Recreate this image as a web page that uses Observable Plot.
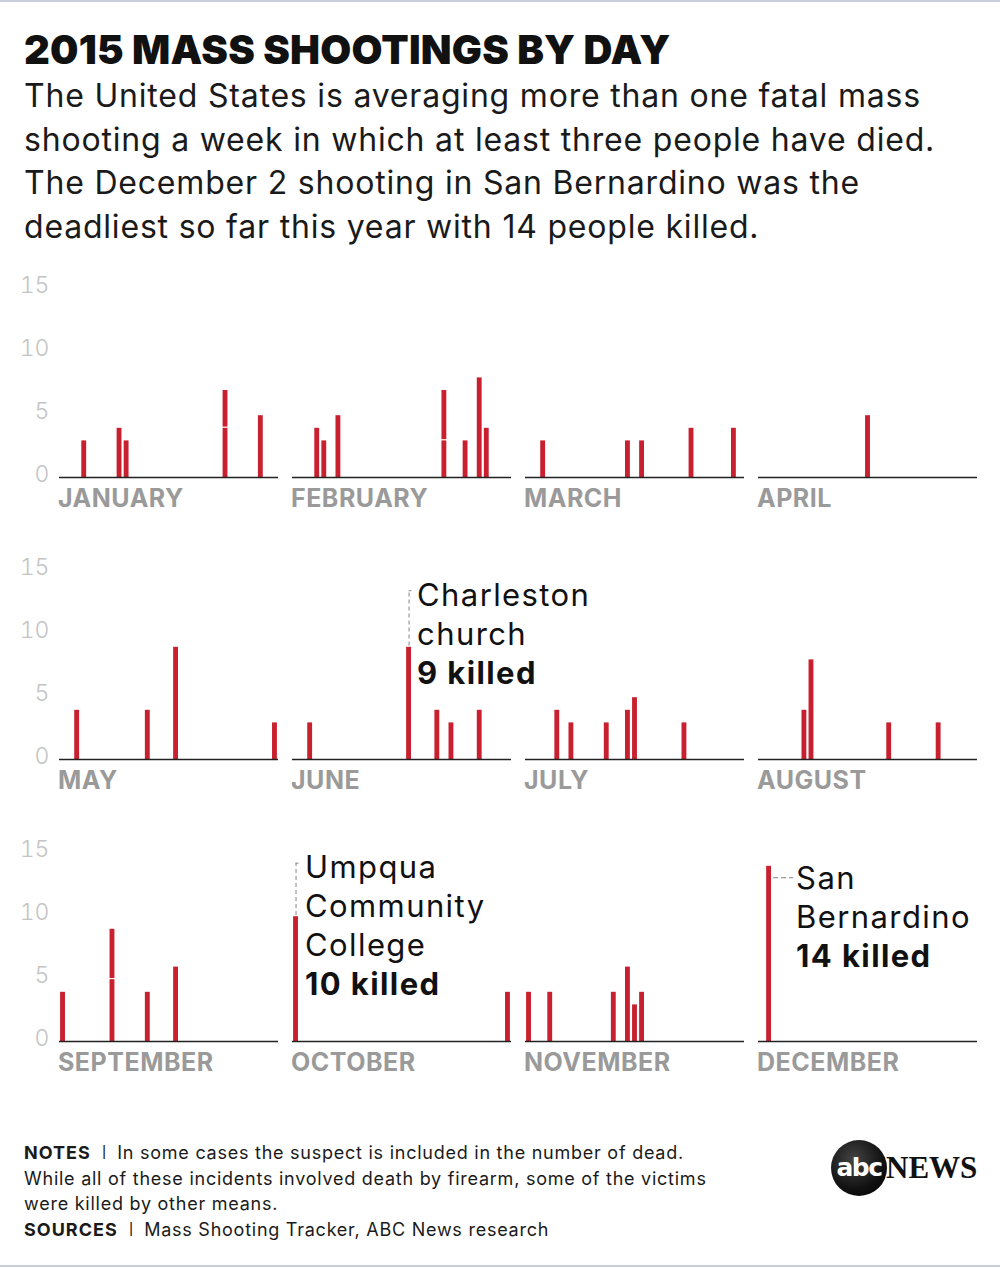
<!DOCTYPE html>
<html>
<head>
<meta charset="utf-8">
<script src="https://cdn.jsdelivr.net/npm/d3@7"></script>
<script src="https://cdn.jsdelivr.net/npm/@observablehq/plot@0.6"></script>
<style>
  html, body { margin: 0; padding: 0; background: #fff; }
  #page { position: relative; width: 1000px; height: 1268px; overflow: hidden; font-family: Inter, "Noto Sans", sans-serif; color: #111; }
  .rule { position: absolute; left: 0; width: 1000px; height: 2px; background: #c9cedb; }
  #title { position: absolute; left: 24px; top: 28px; font-size: 40px; font-weight: 900; line-height: 44px; white-space: nowrap; color: #111; letter-spacing: 0.2px; }
  #subtitle { position: absolute; left: 24px; top: 74px; font-size: 32px; line-height: 43.5px; white-space: nowrap; color: #1a1a1a; letter-spacing: 0.8px; }
  #chart { position: absolute; left: 0; top: 257px; }
  #chart g[font-size="31"] { letter-spacing: 1.4px; }
  #chart g[font-size="25"] { letter-spacing: 0.5px; }
  #notes { position: absolute; left: 24px; top: 1140px; font-size: 18px; line-height: 25.5px; white-space: nowrap; color: #1a1a1a; letter-spacing: 0.75px; }
  #notes b { font-weight: 700; letter-spacing: 1px; }
  #notes .sep { font-weight: 300; padding: 0 10px 0 11px; }
  #logo-circle { position: absolute; left: 831px; top: 1140px; width: 56px; height: 56px; border-radius: 50%; background: radial-gradient(circle at 40% 35%, #444 0%, #111 60%, #000 100%); color: #fff; font-family: "DejaVu Sans", sans-serif; font-weight: 700; font-size: 25px; line-height: 56px; text-align: center; letter-spacing: -1.5px; }
  #logo-news { position: absolute; left: 886px; top: 1150px; font-family: "Liberation Serif", "DejaVu Serif", serif; font-weight: 700; font-size: 31px; line-height: 36px; color: #111; letter-spacing: 0px; }
</style>
</head>
<body>
<div id="page">
  <div class="rule" style="top:0"></div>
  <div id="title">2015 MASS SHOOTINGS BY DAY</div>
  <div id="subtitle">The United States is averaging more than one fatal mass<br>shooting a week in which at least three people have died.<br>The December 2 shooting in San Bernardino was the<br>deadliest so far this year with 14 people killed.</div>
  <div id="chart"></div>
  <div id="notes"><b>NOTES</b><span class="sep">I</span>In some cases the suspect is included in the number of dead.<br>While all of these incidents involved death by firearm, some of the victims<br>were killed by other means.<br><b>SOURCES</b><span class="sep">I</span>Mass Shooting Tracker, ABC News research</div>
  <div id="logo-circle">abc</div>
  <div id="logo-news">NEWS</div>
  <div class="rule" style="top:1265px"></div>
</div>
<script>
// ---- Data ----
const months = ["JANUARY", "FEBRUARY", "MARCH", "APRIL", "MAY", "JUNE",
                "JULY", "AUGUST", "SEPTEMBER", "OCTOBER", "NOVEMBER", "DECEMBER"];
// day of month of each fatal mass shooting (same day listed twice = two shootings)
const shootingDays = [
  [4, 9, 10, 24, 24, 29],
  [4, 5, 7, 22, 22, 25, 27, 28],
  [3, 15, 17, 24, 30],
  [16],
  [3, 13, 17, 31],
  [3, 17, 21, 23, 27],
  [5, 7, 12, 15, 16, 23],
  [7, 8, 19, 26],
  [1, 8, 8, 13, 17],
  [1, 31],
  [1, 4, 13, 15, 16, 17],
  [2]
];
// people killed in each of those shootings
const shootingKilled = [
  [3, 4, 3, 4, 3, 5],
  [4, 3, 5, 3, 4, 3, 8, 4],
  [3, 3, 3, 4, 4],
  [5],
  [4, 4, 9, 3],
  [3, 9, 4, 3, 4],
  [4, 3, 3, 4, 5, 3],
  [4, 8, 3, 3],
  [4, 5, 4, 4, 6],
  [10, 4],
  [4, 4, 4, 6, 3, 4],
  [14]
];
const yTicks = [0, 5, 10, 15];
// annotated shootings
const annoMonth = [5, 9, 11];
const annoDay = [17, 1, 2];
const annoKilled = [9, 10, 14];
const annoPlace = [["Charleston", "church"], ["Umpqua", "Community", "College"], ["San", "Bernardino"]];

// ---- Layout constants ----
const panelW = 219, panelH = 190, daysSpan = 31, yMax = 15;
const pxPerDay = panelW / daysSpan, pxPerUnit = panelH / yMax;
const lineStep = 39.2 / pxPerUnit;
// annotation layout: style, connector end (data units), first-line centre, text offset (px)
const annoLayout = [
  {style: "up", connTop: 13.4, firstLine: 13.0, dxPx: 8},
  {style: "up", connTop: 14.15, firstLine: 13.8, dxPx: 9},
  {style: "side", connTop: 13.0, firstLine: 12.9, dxPx: 27}
];

const col = (m) => m % 4;
const row = (m) => Math.floor(m / 4);

const rows = [];
months.forEach((m, i) => shootingDays[i].forEach((d, j) => rows.push({month: i, day: d, killed: shootingKilled[i][j]})));

const annos = annoMonth.map((m, i) => ({i, month: m, x: annoDay[i] - 0.5, killed: annoKilled[i], ...annoLayout[i]}));
const annoLines = [];
annos.forEach((a) => {
  const lines = [...annoPlace[a.i], `${a.killed} killed`];
  lines.forEach((t, k) => annoLines.push({
    month: a.month, text: t, bold: k === lines.length - 1,
    x: a.x + a.dxPx / pxPerDay, y: a.firstLine - k * lineStep
  }));
});

const fx = (d) => col(d.month), fy = (d) => row(d.month);
const red = "#c8202e";

const chart = Plot.plot({
  width: 1000,
  height: 831,
  marginLeft: 58,
  marginRight: 23,
  marginTop: 30,
  marginBottom: 45.4,
  style: {fontFamily: "Inter, 'Noto Sans', sans-serif", background: "white", overflow: "visible"},
  fx: {axis: null, paddingInner: 0.0614, paddingOuter: 0},
  fy: {axis: null, paddingInner: 0.3281, paddingOuter: 0},
  x: {domain: [0, daysSpan], axis: null},
  y: {domain: [0, yMax], axis: null},
  marks: [
    Plot.axisY(yTicks, {anchor: "left", tickSize: 0, tickPadding: 10, dy: -3, fontSize: 23, fontWeight: 300, color: "#c4c4c4", label: null}),
    Plot.rectY(rows, {
      x1: (d) => d.day - 1, x2: (d) => d.day, y: "killed",
      fx, fy, fill: red, insetLeft: 1.1, insetRight: 1.1, insetTop: 1.2
    }),
    Plot.ruleY([0], {stroke: "#222", strokeWidth: 1.6}),
    Plot.text(months, {
      fx: (d, i) => col(i), fy: (d, i) => row(i),
      x: () => 0, y: () => 0, text: (d) => d,
      textAnchor: "start", lineAnchor: "middle", dy: 21, dx: -1.5,
      fontSize: 25, fontWeight: 700, fill: "#9a9a9a"
    }),
    // vertical dashed connectors
    Plot.ruleX(annos.filter((a) => a.style === "up"), {
      fx, fy, x: "x", y1: "killed", y2: "connTop",
      stroke: "#9a9a9a", strokeWidth: 1.2, strokeDasharray: "4,3"
    }),
    Plot.ruleY(annos.filter((a) => a.style === "up"), {
      fx, fy, y: "connTop", x1: "x", x2: (a) => a.x + 3 / pxPerDay,
      stroke: "#9a9a9a", strokeWidth: 1.2
    }),
    // side dashed connector
    Plot.ruleY(annos.filter((a) => a.style === "side"), {
      fx, fy, y: "connTop", x1: (a) => a.x + 4.5 / pxPerDay, x2: (a) => a.x + 24.5 / pxPerDay,
      stroke: "#9a9a9a", strokeWidth: 1.2, strokeDasharray: "5,3"
    }),
    Plot.text(annoLines.filter((l) => !l.bold), {
      fx, fy, x: "x", y: "y", text: "text", textAnchor: "start", lineAnchor: "middle",
      fontSize: 31, fontWeight: 400, fill: "#111"
    }),
    Plot.text(annoLines.filter((l) => l.bold), {
      fx, fy, x: "x", y: "y", text: "text", textAnchor: "start", lineAnchor: "middle",
      fontSize: 31, fontWeight: 700, fill: "#111"
    })
  ]
});
document.getElementById("chart").appendChild(chart);
</script>
</body>
</html>
